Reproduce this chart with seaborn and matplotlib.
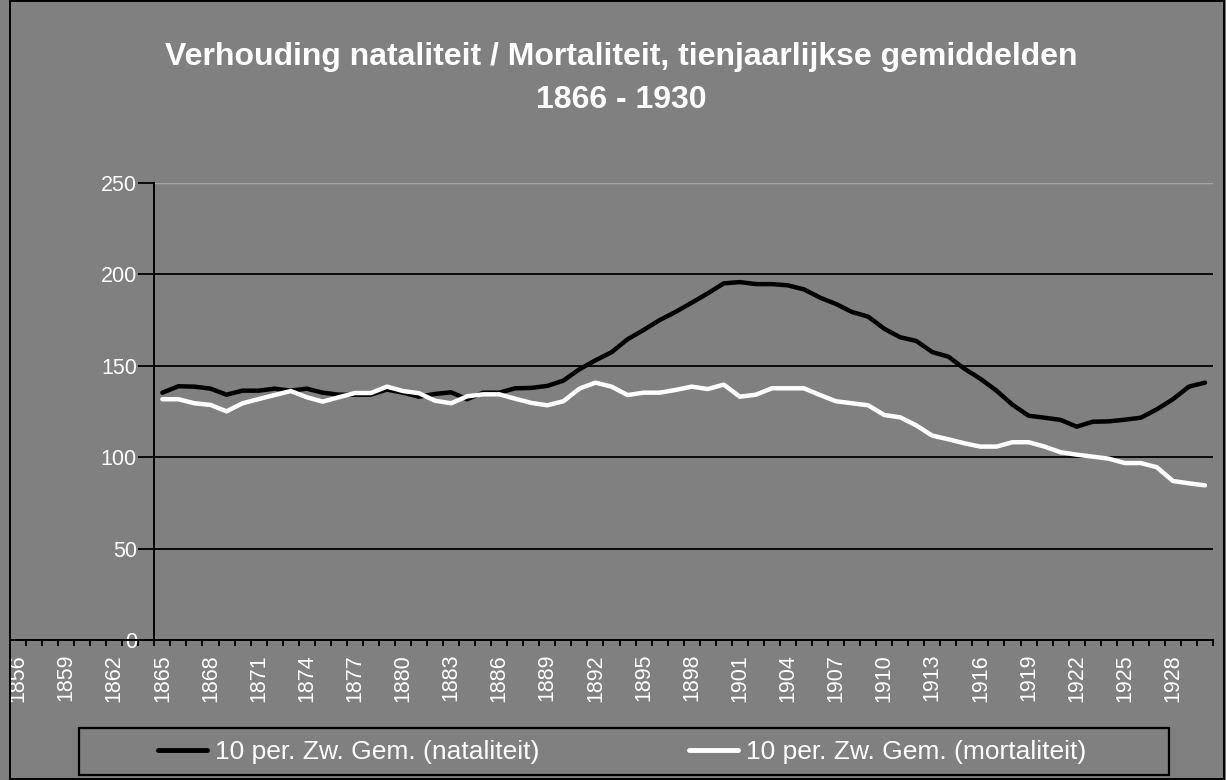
import numpy as np
import pandas as pd
import matplotlib
matplotlib.use("Agg")
import matplotlib.pyplot as plt
from matplotlib.patches import Rectangle
from matplotlib.lines import Line2D
import seaborn as sns

# ten-year moving averages, 1865-1930
years = list(range(1865, 1931))
nataliteit = [
    135.3, 138.8, 138.6, 137.5, 134.2, 136.4, 136.4, 137.5, 136.4, 137.5,
    135.3, 134.2, 134.2, 134.2, 137.0, 135.3, 133.1, 134.6, 135.5, 131.7,
    135.3, 135.3, 137.7, 137.9, 139.0, 141.9, 148.1, 153.0, 157.4, 164.5,
    169.6, 175.0, 179.5, 184.5, 189.6, 195.1, 195.8, 194.7, 194.7, 194.0,
    191.8, 187.3, 183.8, 179.4, 176.9, 170.3, 165.6, 163.6, 157.5, 155.0,
    148.4, 142.9, 136.4, 128.7, 122.7, 121.6, 120.4, 116.7, 119.4, 119.6,
    120.5, 121.6, 126.2, 131.7, 138.6, 140.8,
]
mortaliteit = [
    131.7, 131.7, 129.5, 128.6, 125.1, 129.5, 131.8, 134.0, 136.2, 132.8,
    130.4, 132.8, 135.1, 135.1, 138.6, 136.2, 135.0, 130.9, 129.5, 133.3,
    134.4, 134.4, 132.0, 129.7, 128.4, 130.6, 137.5, 140.8, 138.6, 134.0,
    135.3, 135.3, 136.8, 138.6, 137.3, 139.7, 133.1, 134.2, 137.7, 137.7,
    137.7, 134.0, 130.6, 129.5, 128.4, 123.1, 121.8, 117.4, 111.8, 109.8,
    107.6, 105.8, 105.8, 108.2, 108.2, 105.8, 102.7, 101.4, 100.3, 99.2,
    96.8, 96.8, 94.5, 87.0, 85.7, 84.6,
]
series_names = ["10 per. Zw. Gem. (nataliteit)", "10 per. Zw. Gem. (mortaliteit)"]
series_colors = ["#000000", "#ffffff"]
title_lines = ["Verhouding nataliteit / Mortaliteit, tienjaarlijkse gemiddelden", "1866 - 1930"]
category_years = list(range(1856, 1931))
y_ticks = [0, 50, 100, 150, 200, 250]

sns.set_theme(style="ticks")
plt.rcParams["font.family"] = ["Liberation Sans", "DejaVu Sans"]

BG = "#808080"
W, H = 1226, 780
fig = plt.figure(figsize=(W / 100, H / 100), dpi=100, facecolor=BG)
ax = fig.add_axes([10 / W, 140 / H, 1203 / W, 457 / H])
ax.set_facecolor(BG)

df = pd.DataFrame({
    "jaar": years * 2,
    "waarde": nataliteit + mortaliteit,
    "reeks": [series_names[0]] * len(years) + [series_names[1]] * len(years),
})
sns.lineplot(data=df, x="jaar", y="waarde", hue="reeks", hue_order=series_names,
             palette=series_colors, linewidth=3.2, errorbar=None, legend=False,
             ax=ax, zorder=3)

x_lo, x_hi = category_years[0] - 0.5, category_years[-1] + 0.5
cross = years[0] - 0.5
ax.set_xlim(x_lo, x_hi)
ax.set_ylim(y_ticks[0], y_ticks[-1])

for side in ["top", "right"]:
    ax.spines[side].set_visible(False)
ax.spines["left"].set_position(("data", cross))
for side in ["left", "bottom"]:
    ax.spines[side].set_color("black")
    ax.spines[side].set_linewidth(1.4)

# horizontal gridlines start at the value axis
ax.hlines(y_ticks[1:-1], cross, x_hi, colors="black", linewidth=1.3, zorder=1)
ax.hlines(y_ticks[-1], cross, x_hi, colors="#a6a6a6", linewidth=1.0, zorder=1)

ax.set_yticks(y_ticks)
ax.tick_params(axis="y", left=True, direction="out", length=11.5, width=1.3,
               color="black", pad=1, labelsize=15.5, labelcolor="white")

ax.set_xticks(category_years[::3])
ax.set_xticklabels([str(y) for y in category_years[::3]], rotation=90)
ax.set_xticks(np.arange(x_lo, x_hi + 0.01, 1.0), minor=True)
ax.tick_params(axis="x", which="major", bottom=True, length=0, pad=10,
               labelsize=15.5, labelcolor="white")
ax.tick_params(axis="x", which="minor", bottom=True, direction="out",
               length=4.5, width=1.3, color="black")
ax.set_xlabel("")
ax.set_ylabel("")

# title
fig.text(621 / W, 1 - 57 / H, title_lines[0], ha="center", va="center",
         fontsize=23, fontweight="bold", color="white")
fig.text(621 / W, 1 - 100 / H, title_lines[1], ha="center", va="center",
         fontsize=23, fontweight="bold", color="white")

# legend with its own box
handles = [Line2D([], [], color=c, linewidth=3.5) for c in series_colors]
fs = 19
em = fs * 100 / 72
fig.legend(handles, series_names, ncol=2, loc="center",
           bbox_to_anchor=(622 / W, 1 - 752 / H), frameon=False, fontsize=fs,
           labelcolor="white", handlelength=49 / em, handletextpad=8 / em,
           columnspacing=150 / em)
fig.add_artist(Rectangle((79 / W, 1 - 775 / H), 1090 / W, 47 / H,
                         transform=fig.transFigure, fill=False,
                         edgecolor="black", linewidth=1.6))

# chart area border
fig.add_artist(Rectangle((10 / W, 1 / H), 1214 / W, 778 / H,
                         transform=fig.transFigure, fill=False,
                         edgecolor="black", linewidth=1.4))

fig.savefig("out.png", dpi=100, facecolor=BG)
